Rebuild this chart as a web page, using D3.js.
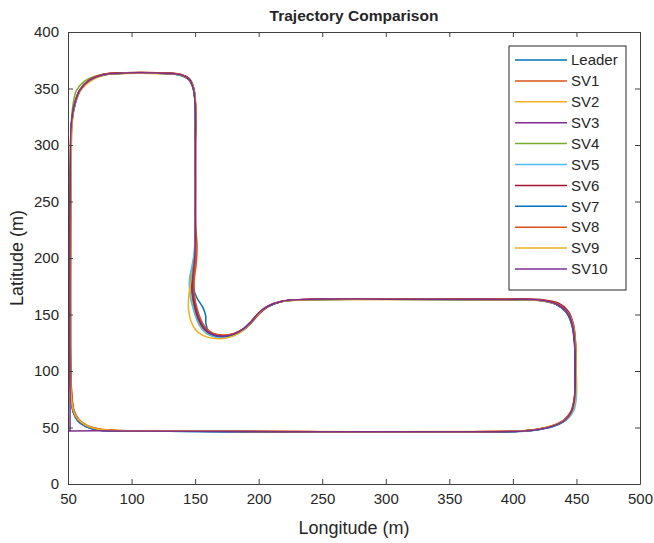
<!DOCTYPE html>
<html>
<head>
<meta charset="utf-8">
<script src="https://cdnjs.cloudflare.com/ajax/libs/d3/7.8.5/d3.min.js"></script>
<style>
    body { margin: 0; background: #fff; }
    text { font-family: "Liberation Sans", Arial, sans-serif; fill: #262626; }
</style>
</head>
<body>
<script>
"use strict"

// trajectories, [longitude, latitude] in metres
const leader = [[52,85],[54,64],[58,56],[64,51],[73,48],[88,47],[150,46.5],[250,46],[350,46],[405,46.5],[420,48],[432,51],[441,56],[446,63],[448.5,75],[449,100],[448.5,125],[446.5,141],[442,152],[434,159],[420,162.5],[390,163],[300,163.5],[235,163],[218,161.5],[207,157],[200,151],[194,143],[187,136],[179,131.5],[170,130],[162,132],[156,137],[152,145],[149,156],[147,168],[146.5,180],[148,192],[149.5,204],[150,225],[150,300],[150,336],[148.5,350],[145,358],[138,362],[120,363.5],[95,363.5],[78,362],[67,357],[60,349],[56,338],[53,320],[52,280],[51.5,200],[51.5,120],[52,85]];
const sv1 = [[52.5,88],[54.5,65],[58.5,56.5],[65,51.5],[74,48.5],[90,47.2],[150,46.8],[250,46.2],[350,46.3],[404,46.8],[419,48.3],[431,51.5],[440,56.5],[445.5,64],[448.3,76],[449.2,100],[448.8,125],[447,141],[442.5,152.5],[434.5,159.5],[421,162.8],[390,163.3],[300,163.6],[236,163.2],[219,161.8],[208,157.5],[201,151.5],[195,144],[188,137],[180,132.5],[171,131],[163,133],[157,138],[153,146],[150.5,157],[149,170],[149.5,183],[151,196],[151.5,212],[150.3,230],[150.2,300],[150.2,336],[148.7,350],[145.2,358.5],[138,362.3],[120,363.8],[95,363.8],[77,362.2],[66,357],[59,348],[55,336],[53,318],[52.3,280],[52,200],[52,120],[52.5,88]];
const sv2 = [[52,90],[54,66],[58,57],[64,52],[73,48.8],[88,47.4],[150,46.9],[250,46.4],[350,46.4],[406,47],[421,48.8],[433,52.3],[442,57.5],[447,65],[449.3,78],[449.6,100],[449.3,124],[447.5,140],[443,151.5],[435,158.8],[421,162.3],[390,162.8],[300,163.2],[234,162.8],[216,161],[205,156],[198,149],[192,141],[185,134.5],[176,130.5],[167,130],[159,133],[154,139],[150.5,148],[148,159],[146.5,171],[147,183],[148.5,195],[149.8,207],[150,225],[150,300],[150.5,335],[149,349],[145.5,357.5],[139,361.8],[121,363.2],[96,363.3],[79,362],[69,357.5],[61,350],[56.5,340],[53.5,322],[52.5,280],[52,200],[52,120],[52,90]];
const sv3 = [[51.8,87],[53.8,65],[57.5,56],[63.5,51],[72,48],[86,47],[150,46.6],[250,46.1],[350,46.2],[404,46.6],[419.5,48.2],[431.5,51.2],[440.5,56.3],[445.8,63.5],[448.4,76],[448.8,100],[448.4,125],[446.3,141],[441.8,152.2],[433.5,159.3],[419,162.7],[390,163.2],[300,163.4],[235,163.1],[218,161.6],[207,157.2],[200,151.3],[194,144],[188,137.5],[181,133],[172,131],[164,132.5],[158,137],[154,144],[151,154],[148.5,165],[147.5,177],[148.5,190],[149.8,203],[150,225],[150.2,300],[150.1,336],[148.6,350],[145.2,358.2],[138.5,362.2],[120,363.6],[95,363.6],[78,362.2],[67,357.2],[59.8,349],[55.8,338],[52.8,320],[51.8,280],[51.5,200],[51.5,120],[51.8,87]];
const sv4 = [[52.3,86],[54.3,64.5],[58.2,56.2],[64.5,51.3],[73.5,48.3],[88,47.2],[150,46.7],[250,46.2],[350,46.2],[405.5,46.8],[420.5,48.4],[432.5,51.6],[441.5,56.8],[446.5,64],[448.8,76],[449.3,100],[448.8,125],[446.8,141],[442.3,152],[434.3,159],[420.5,162.6],[390,163.1],[300,163.4],[235,163],[218,161.4],[207,156.8],[200,150.5],[194.5,143],[188,136],[180,131.5],[171,129.8],[163,131.5],[157,136.5],[153,144],[150,155],[148,167],[147.5,179],[148.5,191],[149.7,204],[150,225],[150,300],[150,336],[148.4,350],[144.8,358],[137.5,362],[120,363.4],[92,363.4],[74,361.8],[63,356.5],[56.5,348],[54,336],[52.6,320],[52,280],[51.7,200],[51.7,120],[52.3,86]];
const sv5 = [[52.2,86],[54.2,64],[58,56],[64,51],[73,48.2],[88,47.1],[150,46.6],[250,46.1],[350,46.1],[407,46.8],[422,48.6],[434,52],[443,57.5],[448,65],[450,78],[449.8,100],[449,125],[447,141],[442.5,152.3],[434.5,159.2],[420.5,162.6],[390,163.1],[300,163.4],[235,163],[218,161.4],[207,156.6],[200,150.2],[194,142.5],[187,135.5],[179,131],[170,129.5],[162,131.5],[156,136.5],[152,144],[148.5,155],[146,167],[145.5,180],[147.5,193],[149.3,205],[150,225],[150.2,300],[150.2,336],[148.8,350],[145.3,358.2],[138.3,362.2],[120,363.6],[95,363.6],[78,362.1],[67,357.2],[60,349.2],[56,338.2],[53,320],[52.2,280],[51.8,200],[51.8,120],[52.2,86]];
const sv6 = [[52.4,86],[54.5,64.5],[58.5,56.3],[64.8,51.2],[74,48.2],[89,47.1],[150,46.7],[250,46.3],[350,46.3],[405,46.9],[420,48.5],[432,51.8],[441,57],[446.2,64.5],[448.7,77],[449.2,100],[449.3,125],[447.5,142],[443.5,153],[436,160],[422,163.2],[391,163.6],[300,163.8],[236,163.3],[219,161.8],[208,157.4],[201,151.4],[195,144],[188.5,137],[180.5,132.3],[171.5,130.6],[163,132.5],[157,137.5],[153,145],[150,155.5],[148,167.5],[147.5,179.5],[148.8,191.5],[150,204],[150.3,225],[150.3,300],[150.3,336],[148.9,350.5],[145.5,358.6],[138.5,362.6],[120,364],[95,364],[77.5,362.5],[66.5,357.4],[59.3,349],[55.3,337.5],[52.8,319],[52.2,280],[51.9,200],[51.9,120],[52.4,86]];
const sv7 = [[52.1,86],[54.1,64],[58,56],[64,51],[73,48],[88,47],[150,46.5],[250,46.1],[350,46.1],[405,46.6],[420,48.1],[432,51.2],[441,56.3],[446,63.3],[448.6,75.5],[449.1,100],[448.6,125],[446.6,141],[442.1,152],[434.1,159],[420.2,162.5],[390,163],[300,163.4],[235,163],[218,161.5],[207,157],[200,151],[194,143.2],[187.5,136.5],[180,132],[172,130.5],[165,131.5],[160.5,135.5],[158.5,142],[158.3,149],[156,156.5],[152,163.5],[149,172],[148.5,183],[149.5,194],[150.2,206],[150.2,225],[150.1,300],[150.1,336],[148.6,350],[145.1,358],[138.2,362],[120,363.5],[95,363.5],[78,362],[67,357],[60,349],[56,338],[53,320],[52,280],[51.6,200],[51.6,120],[52.1,86]];
const sv8 = [[52.6,87],[54.8,65],[59,56.6],[65.5,51.6],[75,48.6],[91,47.3],[150,46.8],[250,46.3],[350,46.3],[404.5,46.9],[419.5,48.5],[431.5,51.7],[440.5,56.8],[445.8,64.2],[448.5,76.5],[449.3,100],[449,125],[447.2,141.5],[442.8,152.7],[435,159.7],[421.5,163],[390,163.4],[300,163.7],[236,163.3],[219,161.9],[208,157.6],[201,151.7],[195.5,144.5],[189,138],[181,133.5],[172,131.8],[164,133.5],[158.5,138],[154.5,145.5],[151.5,155.5],[149.5,167],[149,179],[149.8,191],[150.5,203],[150.3,225],[150.3,300],[150.3,336],[148.8,350.3],[145.4,358.5],[138.3,362.4],[120,363.9],[95,363.9],[77.3,362.3],[66.2,357.1],[59.2,348.5],[55.2,337],[52.9,319],[52.3,280],[52,200],[52,120],[52.6,87]];
const sv9 = [[52,89],[54,66],[58,57],[64,52],[73,48.6],[88,47.3],[150,46.8],[250,46.3],[350,46.3],[406,46.9],[421,48.7],[433,52.2],[442,57.4],[447,64.8],[449.4,78],[449.7,100],[449.2,124],[447.4,140.5],[443,151.8],[435,158.9],[421,162.4],[390,162.9],[300,163.3],[234,162.9],[216,161.2],[205,156],[197.5,148],[191,139.5],[184,133],[174,129],[164,129],[156,131.5],[150,137],[146.5,145],[144.8,155],[145,166],[146.5,177],[148.5,190],[150,205],[150,225],[150,300],[150.4,335.5],[149,349.5],[145.6,357.8],[139,362],[121,363.3],[96,363.4],[79,362.1],[68.5,357.5],[60.8,350],[56.3,339.5],[53.3,321],[52.4,280],[52,200],[52,120],[52,89]];
const sv10 = [[49,47],[88,47],[150,46.6],[250,46.2],[350,46.2],[405,46.7],[420,48.3],[432,51.5],[441,56.6],[446,63.8],[448.6,76],[449.1,100],[448.7,125],[446.8,141.3],[442.4,152.4],[434.4,159.3],[420.5,162.8],[390,163.3],[300,163.6],[235,163.2],[218,161.7],[207,157.3],[200,151.5],[194.5,144],[188,137.2],[180.5,132.6],[171.5,130.8],[163.5,132.5],[157.5,137.2],[153.5,144.5],[150.5,155],[148.3,166.5],[147.8,178.5],[148.8,190.5],[149.9,203],[150.1,225],[150.1,300],[150.1,336],[148.6,350.2],[145.2,358.3],[138.4,362.3],[120,363.7],[95,363.7],[77.8,362.2],[66.8,357.1],[59.6,348.8],[55.6,337.6],[52.7,319.5],[51.8,280],[51.6,200],[51.6,120],[51.6,60],[51.6,47]];

const seriesData = [leader, sv1, sv2, sv3, sv4, sv5, sv6, sv7, sv8, sv9, sv10];
const seriesNames = ["Leader", "SV1", "SV2", "SV3", "SV4", "SV5", "SV6", "SV7", "SV8", "SV9", "SV10"];
const seriesColors = ["#0072BD", "#D95319", "#EDB120", "#7E2F8E", "#77AC30", "#4DBEEE", "#A2142F",
                      "#0072BD", "#D95319", "#EDB120", "#7E2F8E"];
const xTicks = [50, 100, 150, 200, 250, 300, 350, 400, 450, 500];
const yTicks = [0, 50, 100, 150, 200, 250, 300, 350, 400];

let TrajectoryChart = function () {

    let self = {
        width: 654,
        height: 543,
        plot: { left: 68, top: 32, right: 640, bottom: 484 },
        axisColor: "#404040",
        svg: null,
        x: null,
        y: null
    };

    init();

    function init() {
        self.svg = d3.select("body").append("svg")
            .attr("width", self.width)
            .attr("height", self.height);

        self.x = d3.scaleLinear().domain([50, 500]).range([self.plot.left, self.plot.right]);
        self.y = d3.scaleLinear().domain([0, 400]).range([self.plot.bottom, self.plot.top]);

        self.svg.append("defs").append("clipPath")
            .attr("id", "plotClip")
            .append("rect")
            .attr("x", self.plot.left)
            .attr("y", self.plot.top)
            .attr("width", self.plot.right - self.plot.left)
            .attr("height", self.plot.bottom - self.plot.top);

        drawLines();
        drawAxes();
        drawLegend();
        drawTitles();
    }

    /* one path per vehicle, leader first so SV10 ends up on top */
    function drawLines() {
        let line = d3.line()
            .x(d => self.x(d[0]))
            .y(d => self.y(d[1]))
            .curve(d3.curveCatmullRom.alpha(0.5));

        self.svg.append("g")
            .attr("clip-path", "url(#plotClip)")
            .selectAll("path")
            .data(seriesData)
            .enter().append("path")
            .attr("d", line)
            .attr("fill", "none")
            .attr("stroke", (d, i) => seriesColors[i])
            .attr("stroke-width", 1.5)
            .attr("stroke-linejoin", "round");
    }

    /* matlab style box: ticks inward on all four sides */
    function drawAxes() {
        let p = self.plot;
        let axes = [
            { axis: d3.axisBottom(self.x).tickValues(xTicks), tx: 0, ty: p.bottom, labels: true },
            { axis: d3.axisTop(self.x).tickValues(xTicks), tx: 0, ty: p.top, labels: false },
            { axis: d3.axisLeft(self.y).tickValues(yTicks), tx: p.left, ty: 0, labels: true },
            { axis: d3.axisRight(self.y).tickValues(yTicks), tx: p.right, ty: 0, labels: false }
        ];

        axes.forEach(a => {
            a.axis.tickSizeInner(-5).tickSizeOuter(0).tickPadding(9);
            if (!a.labels) {
                a.axis.tickFormat("");
            }
            let g = self.svg.append("g")
                .attr("transform", "translate(" + a.tx + "," + a.ty + ")")
                .call(a.axis);
            g.select(".domain").attr("stroke", self.axisColor).attr("stroke-width", 1);
            g.selectAll(".tick line").attr("stroke", self.axisColor);
            g.selectAll(".tick text")
                .style("font-family", "'Liberation Sans', Arial, sans-serif")
                .style("font-size", "15px")
                .attr("fill", "#262626");
        });
    }

    function drawLegend() {
        let box = { x: 509, y: 46, w: 117, h: 244 };
        let rowGap = 20.9;

        let legend = self.svg.append("g").attr("class", "legend");
        legend.append("rect")
            .attr("x", box.x)
            .attr("y", box.y)
            .attr("width", box.w)
            .attr("height", box.h)
            .attr("fill", "#fff")
            .attr("stroke", "#262626")
            .attr("stroke-width", 1);

        let rows = legend.selectAll("g.row")
            .data(seriesNames)
            .enter().append("g")
            .attr("class", "row")
            .attr("transform", (d, i) => "translate(0," + (box.y + 14 + i * rowGap) + ")");

        rows.append("line")
            .attr("x1", box.x + 6)
            .attr("x2", box.x + 58)
            .attr("stroke", (d, i) => seriesColors[i])
            .attr("stroke-width", 1.5);

        rows.append("text")
            .attr("x", box.x + 62)
            .attr("dy", "0.35em")
            .style("font-size", "15px")
            .text(d => d);
    }

    function drawTitles() {
        let cx = (self.plot.left + self.plot.right) / 2;
        let cy = (self.plot.top + self.plot.bottom) / 2;

        self.svg.append("text")
            .attr("x", cx)
            .attr("y", 21)
            .attr("text-anchor", "middle")
            .style("font-size", "15.5px")
            .style("font-weight", "bold")
            .attr("fill", "#000")
            .text("Trajectory Comparison");

        self.svg.append("text")
            .attr("x", cx)
            .attr("y", 534)
            .attr("text-anchor", "middle")
            .style("font-size", "18px")
            .text("Longitude (m)");

        self.svg.append("text")
            .attr("transform", "translate(23," + cy + ") rotate(-90)")
            .attr("text-anchor", "middle")
            .style("font-size", "18px")
            .text("Latitude (m)");
    }

    return self;
};

TrajectoryChart();
</script>
</body>
</html>
